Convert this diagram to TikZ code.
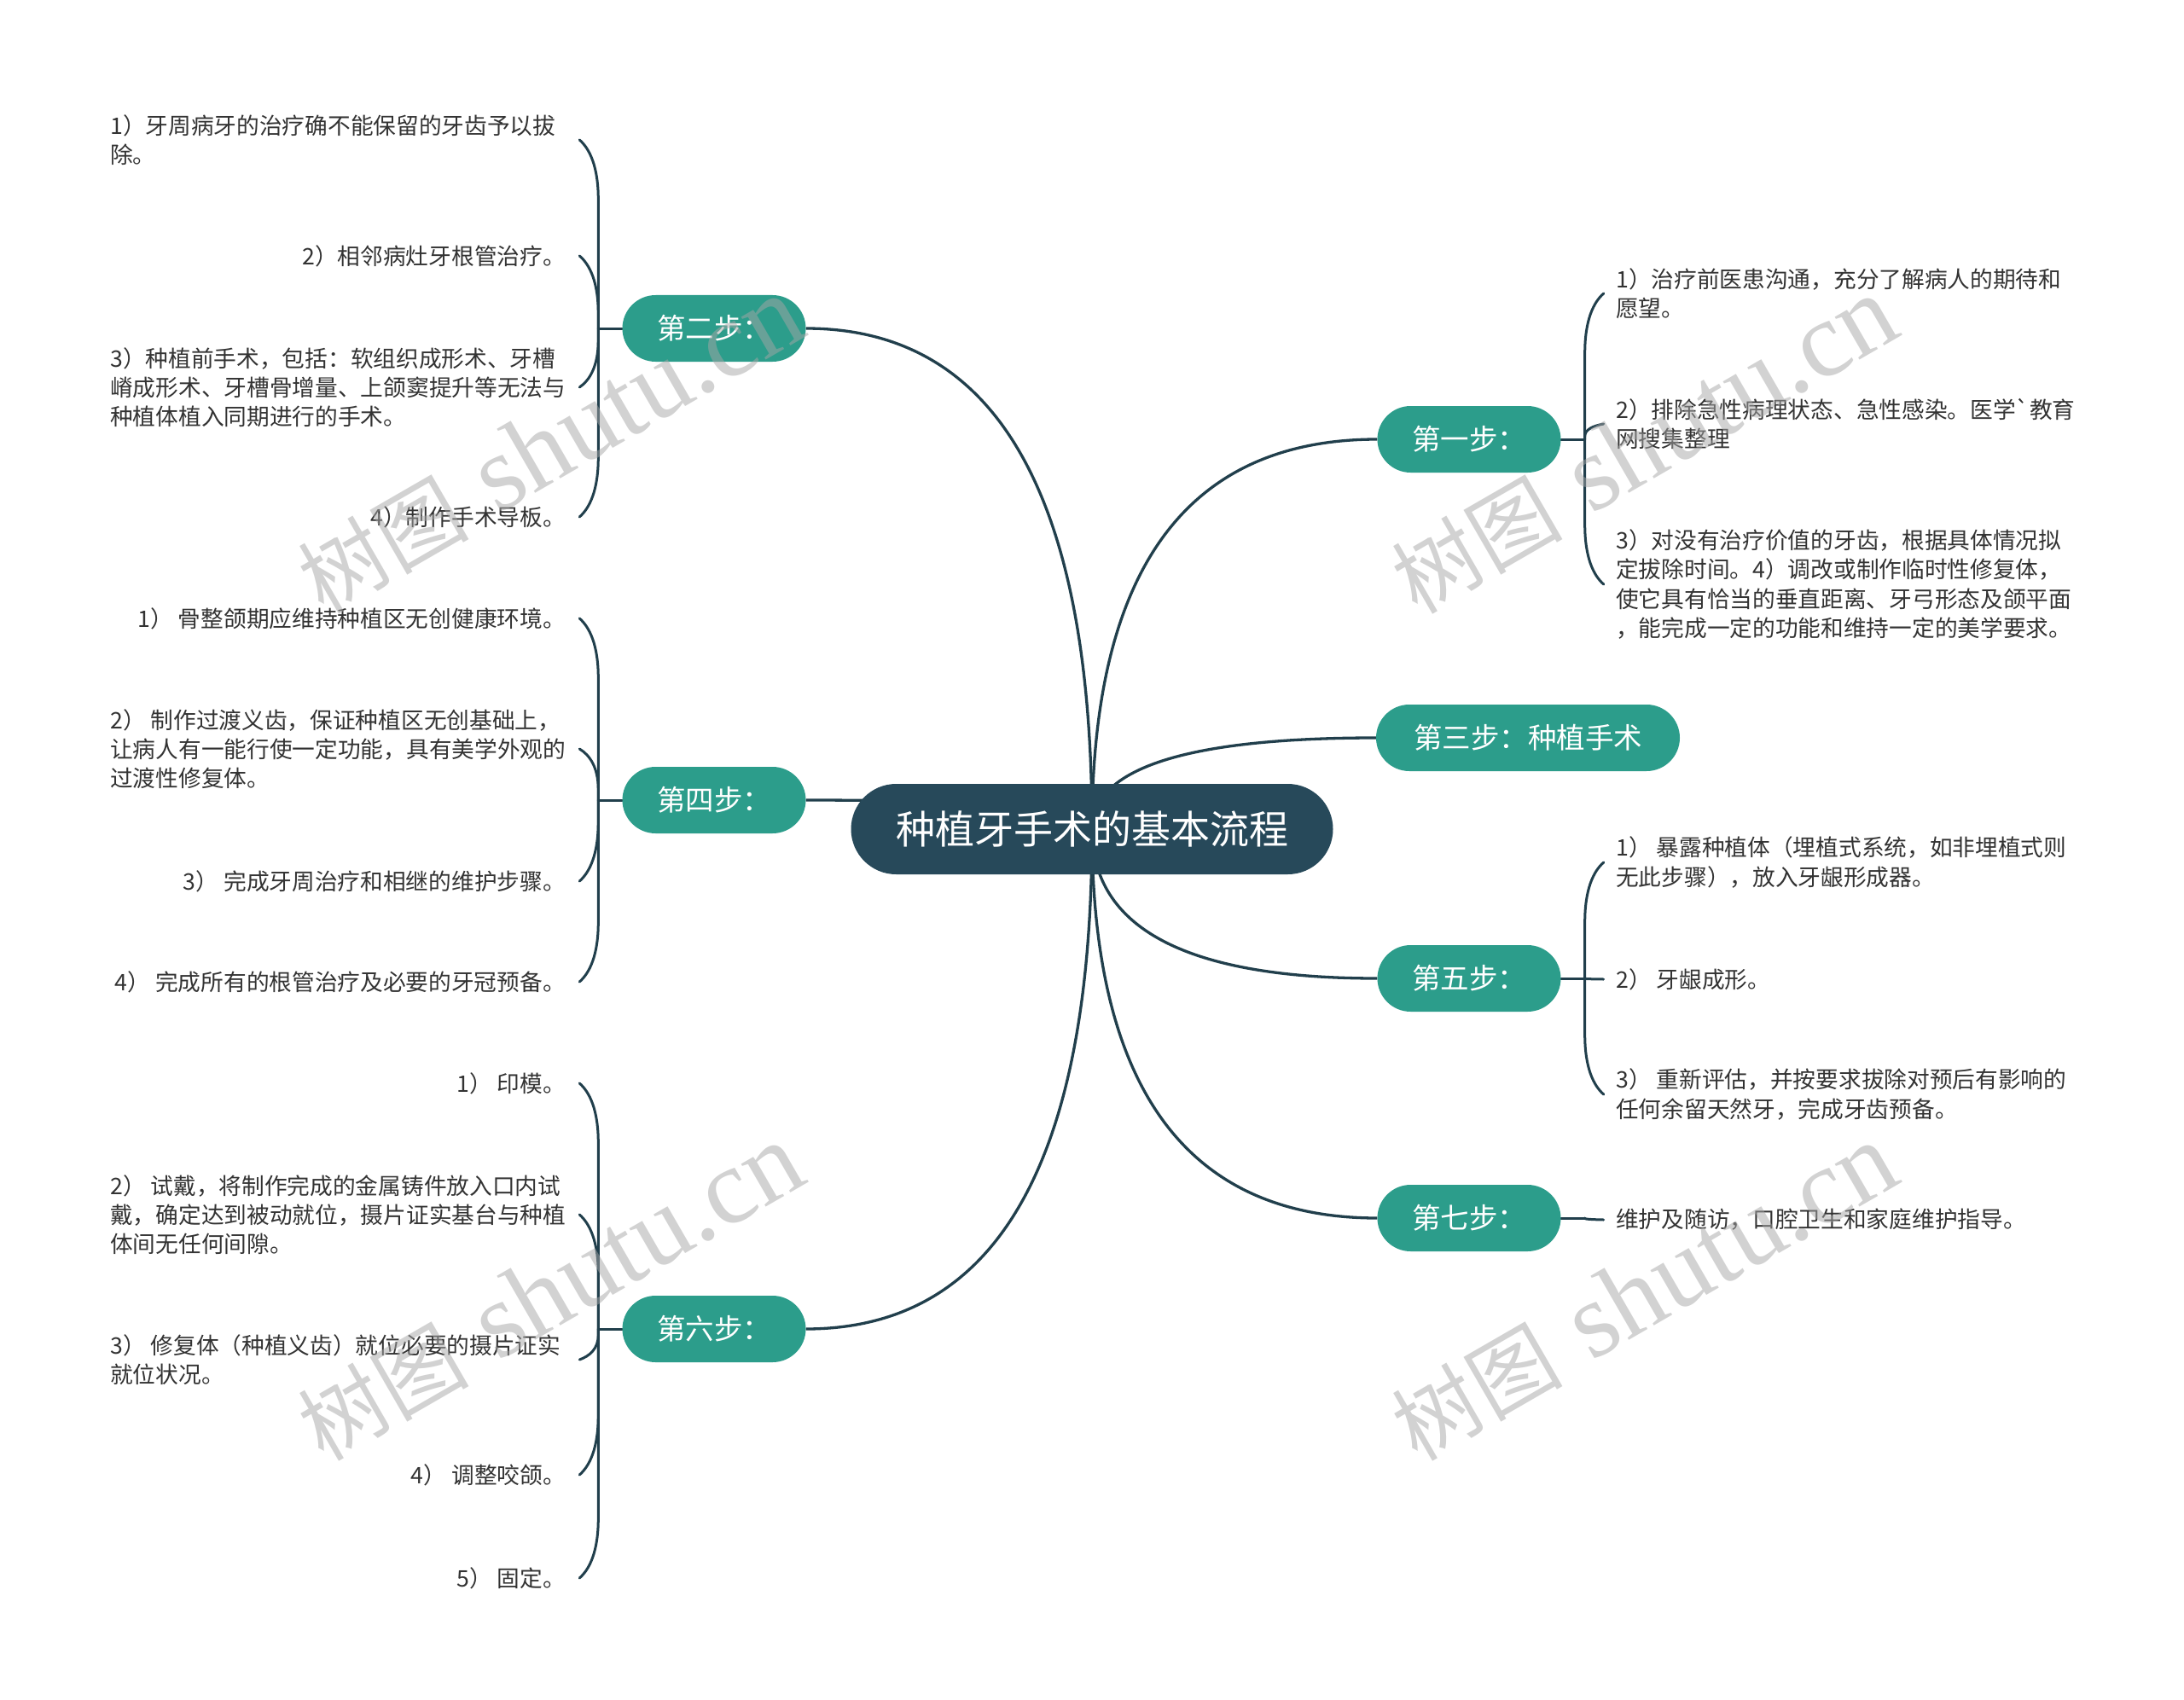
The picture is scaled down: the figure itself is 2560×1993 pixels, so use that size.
\documentclass[tikz,border=0pt]{standalone}
\usepackage{fontspec}
\newfontfamily\cjk{Noto Sans CJK SC}
\newfontfamily\wmserif{Liberation Serif}
\usetikzlibrary{calc}
\pgfdeclarelayer{bg}
\pgfdeclarelayer{fg}
\pgfsetlayers{bg,main,fg}
\definecolor{rootc}{HTML}{27495A}
\definecolor{branchc}{HTML}{2C9D8B}
\definecolor{linec}{HTML}{213F4C}
\definecolor{txtc}{HTML}{333333}
\definecolor{wmc}{HTML}{A6A6A6}
\newcommand{\hookL}[2]{%
  \draw[brk] let \p1=(#1), \p2=($(#1|-#2.center)+(-22,0)$),
     \n1={ifthenelse(\y2>\y1,-1,1)}, \n2={min(70,0.8*abs(\y2-\y1))}
   in (\p1) -- (\x1,{\y2+(\n1)*(\n2)*1pt}) .. controls (\x1,{\y2+(\n1)*(\n2)*0.45pt}) and ({\x1-10pt},{\y2+(\n1)*(\n2)*0.15pt}) .. (\p2);}
\newcommand{\hookR}[2]{%
  \draw[brk] let \p1=(#1), \p2=($(#1|-#2.center)+(22,0)$),
     \n1={ifthenelse(\y2>\y1,-1,1)}, \n2={min(70,0.8*abs(\y2-\y1))}
   in (\p1) -- (\x1,{\y2+(\n1)*(\n2)*1pt}) .. controls (\x1,{\y2+(\n1)*(\n2)*0.45pt}) and ({\x1+10pt},{\y2+(\n1)*(\n2)*0.15pt}) .. (\p2);}
\newcommand{\wmtext}{{\cjk\fontsize{100}{110}\selectfont 树图}\hspace{35pt}{\wmserif\fontsize{126}{140}\selectfont shutu.cn}}
\begin{document}
\begin{tikzpicture}[x=1pt,y=-1pt,
  rootnode/.style={fill=rootc, text=white, rounded corners=53pt, minimum width=565pt, minimum height=106pt, inner sep=0pt, font=\cjk\fontsize{46}{55}\selectfont},
  branchnode/.style={fill=branchc, text=white, rounded corners=39pt, minimum width=215pt, minimum height=78pt, inner sep=0pt, font=\cjk\fontsize{33.5}{38}\selectfont},
  leafE/.style={anchor=east, align=left, text=txtc, inner sep=0pt, font=\cjk\fontsize{26.7}{34.3}\selectfont},
  leafW/.style={anchor=west, align=left, text=txtc, inner sep=0pt, font=\cjk\fontsize{26.7}{34.3}\selectfont},
  conn/.style={draw=linec, line width=3.3pt},
  brk/.style={draw=linec, line width=3pt, line cap=round},
  wm/.style={text=wmc, text opacity=0.5, rotate=30, inner sep=0pt}
]
\useasboundingbox (0,0) rectangle (2560,1993);
\begin{pgfonlayer}{bg}
\fill[white] (0,0) rectangle (2560,1993);
\end{pgfonlayer}

% root and branches
\node[rootnode] (root) at (1280,972) {种植牙手术的基本流程};
\node[branchnode] (n2) at (837,385) {第二步：};
\node[branchnode] (n4) at (837,938) {第四步：};
\node[branchnode] (n6) at (837,1558) {第六步：};
\node[branchnode] (n1) at (1722,515) {第一步：};
\node[branchnode, minimum width=356pt] (n3) at (1791,865) {第三步：种植手术};
\node[branchnode] (n5) at (1722,1147) {第五步：};
\node[branchnode] (n7) at (1722,1428) {第七步：};

% left leaves
\node[leafW] (l21) at (129,164) {1）牙周病牙的治疗确不能保留的牙齿予以拔\\除。};
\node[leafE] (l22) at (663,300) {2）相邻病灶牙根管治疗。};
\node[leafW] (l23) at (129,454) {3）种植前手术，包括：软组织成形术、牙槽\\嵴成形术、牙槽骨增量、上颌窦提升等无法与\\种植体植入同期进行的手术。};
\node[leafE] (l24) at (663,606) {4）制作手术导板。};

\node[leafE] (l41) at (663,725) {1） 骨整颌期应维持种植区无创健康环境。};
\node[leafW] (l42) at (129,878) {2） 制作过渡义齿，保证种植区无创基础上，\\让病人有一能行使一定功能，具有美学外观的\\过渡性修复体。};
\node[leafE] (l43) at (663,1033) {3） 完成牙周治疗和相继的维护步骤。};
\node[leafE] (l44) at (663,1151) {4） 完成所有的根管治疗及必要的牙冠预备。};

\node[leafE] (l61) at (663,1270) {1） 印模。};
\node[leafW] (l62) at (129,1424) {2） 试戴，将制作完成的金属铸件放入口内试\\戴，确定达到被动就位，摄片证实基台与种植\\体间无任何间隙。};
\node[leafW] (l63) at (129,1594) {3） 修复体（种植义齿）就位必要的摄片证实\\就位状况。};
\node[leafE] (l64) at (663,1729) {4） 调整咬颌。};
\node[leafE] (l65) at (663,1850) {5） 固定。};

% right leaves
\node[leafW] (l11) at (1894,344) {1）治疗前医患沟通，充分了解病人的期待和\\愿望。};
\node[leafW] (l12) at (1894,497) {2）排除急性病理状态、急性感染。医学`教育\\网搜集整理};
\node[leafW] (l13) at (1894,685) {3）对没有治疗价值的牙齿，根据具体情况拟\\定拔除时间。4）调改或制作临时性修复体，\\使它具有恰当的垂直距离、牙弓形态及颌平面\\，能完成一定的功能和维持一定的美学要求。};
\node[leafW] (l51) at (1894,1011) {1） 暴露种植体（埋植式系统，如非埋植式则\\无此步骤），放入牙龈形成器。};
\node[leafW] (l52) at (1894,1148) {2） 牙龈成形。};
\node[leafW] (l53) at (1894,1283) {3） 重新评估，并按要求拔除对预后有影响的\\任何余留天然牙，完成牙齿预备。};
\node[leafW] (l71) at (1894,1430) {维护及随访，口腔卫生和家庭维护指导。};

\coordinate (j2) at ($(n2.west)+(-28,0)$);
\coordinate (j4) at ($(n4.west)+(-28,0)$);
\coordinate (j6) at ($(n6.west)+(-28,0)$);
\coordinate (j1) at ($(n1.east)+(28,0)$);
\coordinate (j5) at ($(n5.east)+(28,0)$);
\coordinate (j7) at ($(n7.east)+(28,0)$);

\begin{pgfonlayer}{bg}
% main connectors
\foreach \n in {n2,n4,n6} {
  \draw[conn] (root.center) .. controls ($(root.center)!0.667!(root.center|-\n.east)$) and ($(\n.east)!0.667!(root.center|-\n.east)$) .. (\n.east);
}
\foreach \n in {n1,n3,n5,n7} {
  \draw[conn] (root.center) .. controls ($(root.center)!0.667!(root.center|-\n.west)$) and ($(\n.west)!0.667!(root.center|-\n.west)$) .. (\n.west);
}
% bracket stems
\draw[brk] (n2.west) -- (j2);
\draw[brk] (n4.west) -- (j4);
\draw[brk] (n6.west) -- (j6);
\draw[brk] (n1.east) -- (j1);
\draw[brk] (n5.east) -- (j5);
\draw[brk] (n7.east) -- (j7);
\hookL{j2}{l21}\hookL{j2}{l22}\hookL{j2}{l23}\hookL{j2}{l24}
\hookL{j4}{l41}\hookL{j4}{l42}\hookL{j4}{l43}\hookL{j4}{l44}
\hookL{j6}{l61}\hookL{j6}{l62}\hookL{j6}{l63}\hookL{j6}{l64}\hookL{j6}{l65}
\hookR{j1}{l11}\hookR{j1}{l12}\hookR{j1}{l13}
\hookR{j5}{l51}\hookR{j5}{l52}\hookR{j5}{l53}
\hookR{j7}{l71}
\end{pgfonlayer}

\begin{pgfonlayer}{fg}
\node[wm] (wm1) at (645,522) {\wmtext};
\node[wm] (wm2) at (1927,522) {\wmtext};
\node[wm] (wm3) at (645,1515) {\wmtext};
\node[wm] (wm4) at (1927,1515) {\wmtext};
\end{pgfonlayer}
\end{tikzpicture}
\end{document}
